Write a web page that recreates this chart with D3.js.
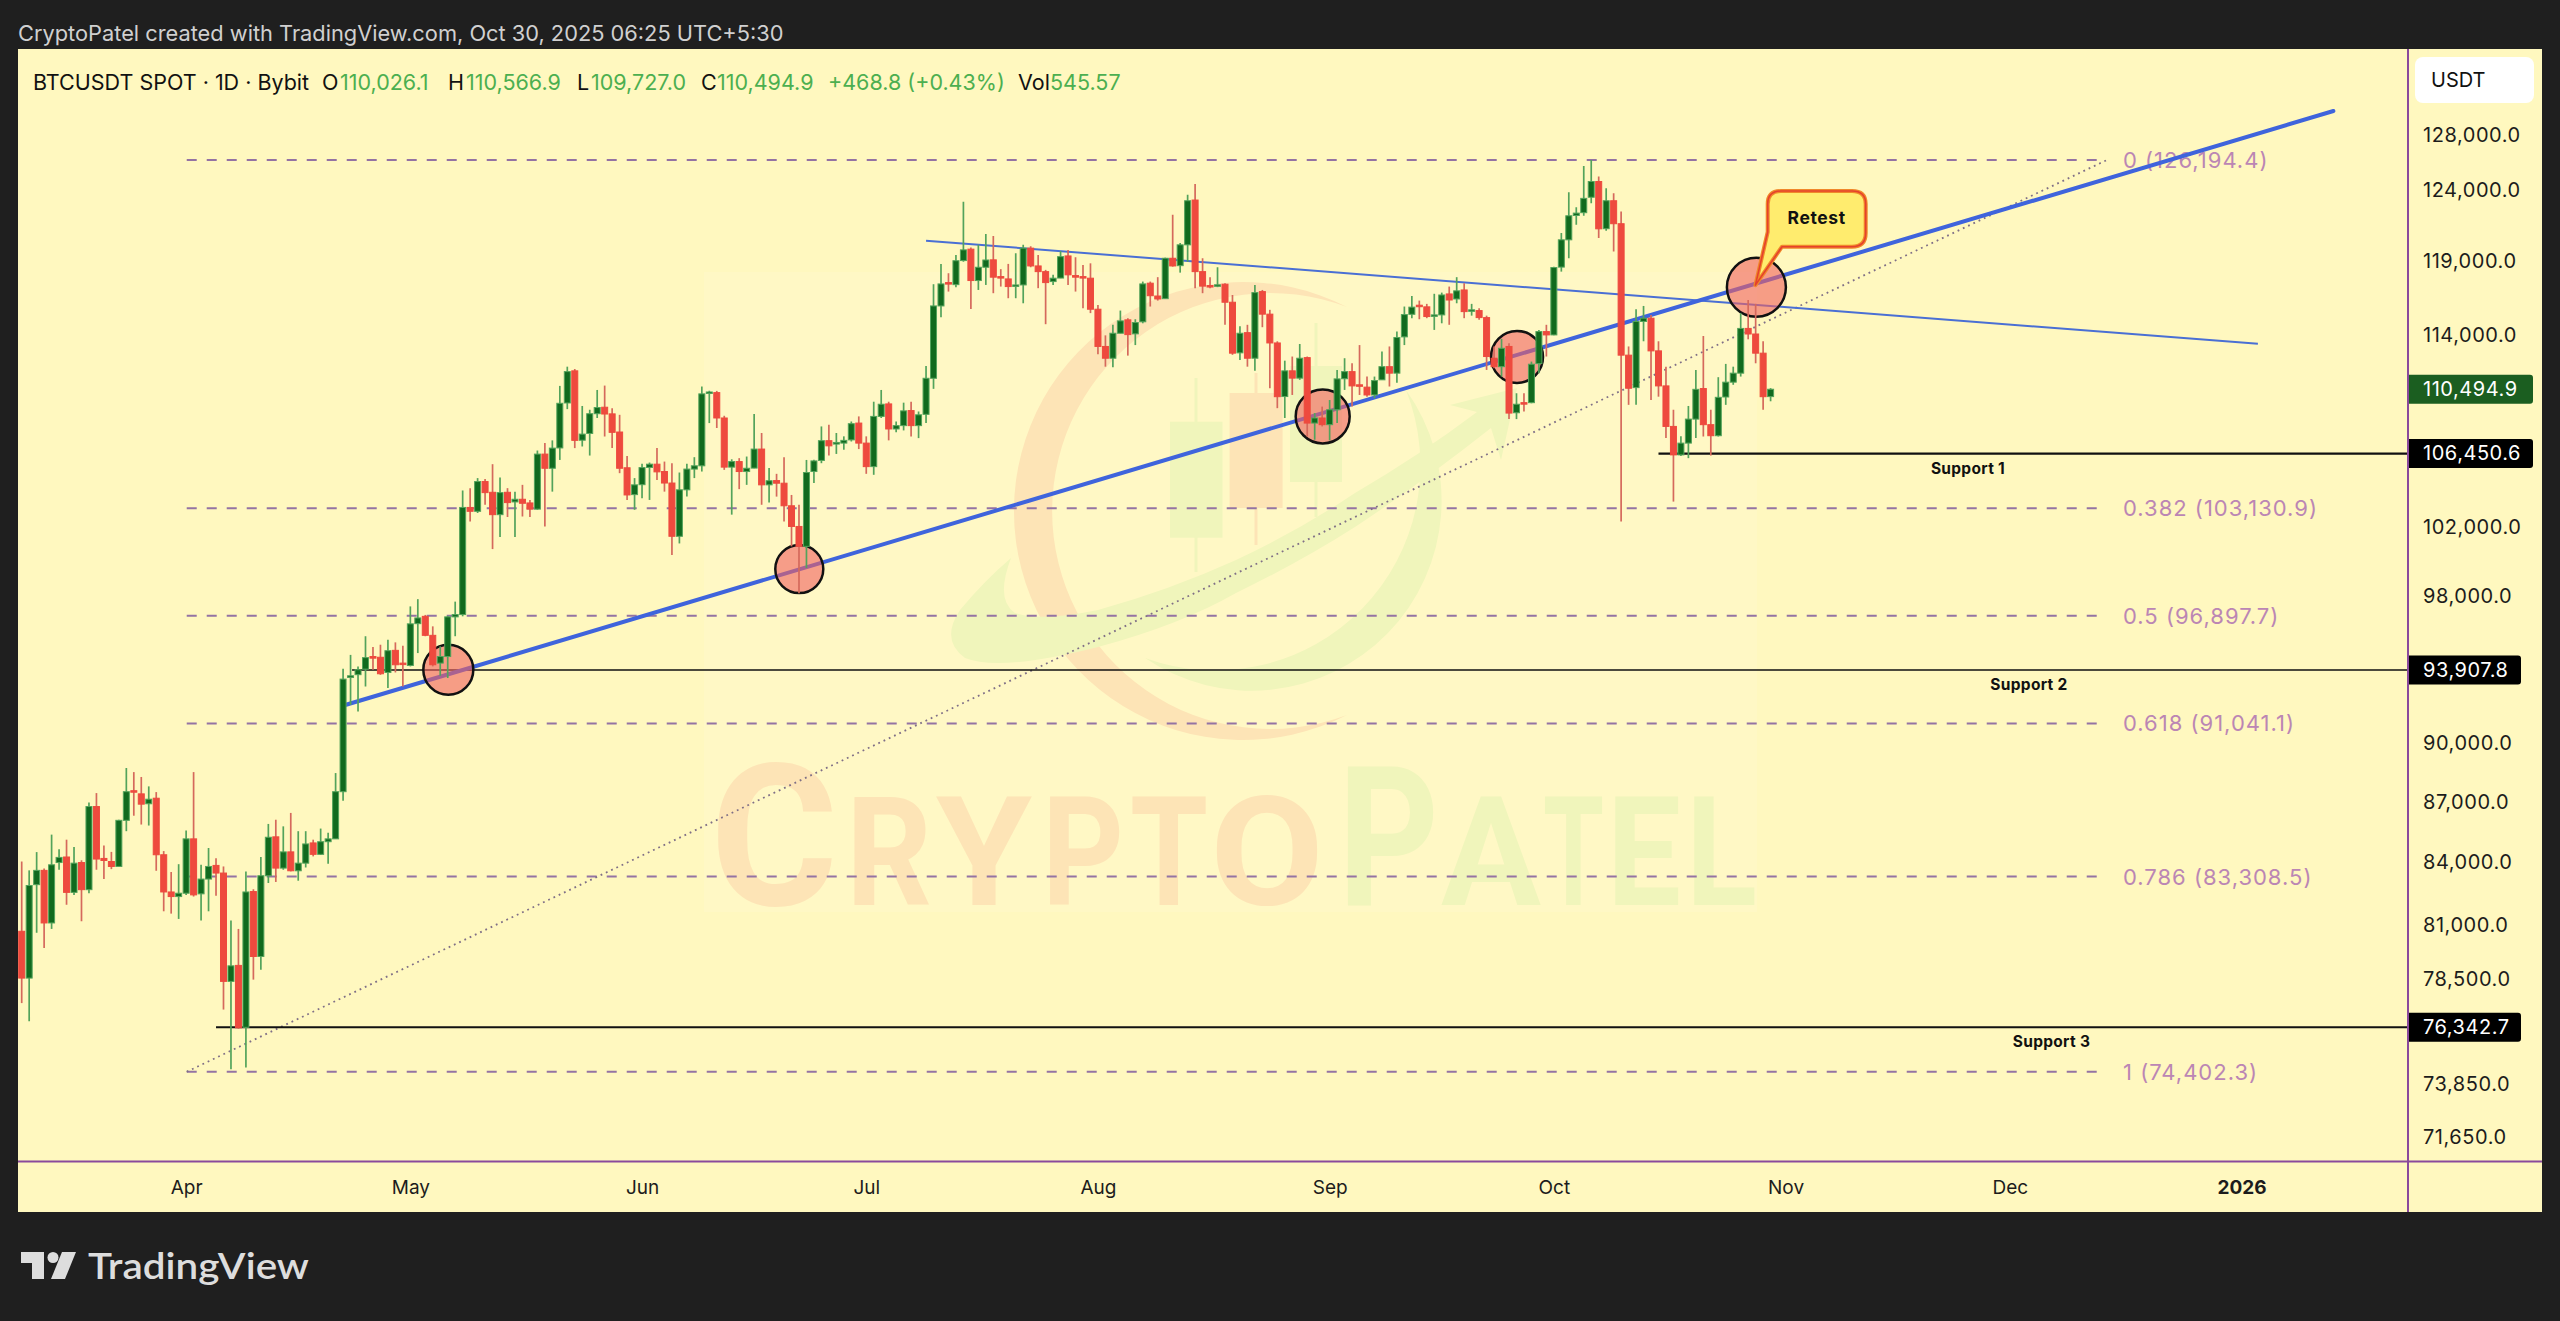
<!DOCTYPE html>
<html><head><meta charset="utf-8">
<script src="https://cdn.jsdelivr.net/npm/d3@7/dist/d3.min.js"></script>
<style>html,body{margin:0;padding:0;background:#1f1f1f}svg{display:block}
text{font-family:Inter,"Noto Sans",sans-serif}</style></head><body>
<svg id="c" width="2560" height="1321"></svg>
<script>
const firstDay = Date.UTC(2025, 2, 10);
const opens = [80710,78550,82920,83610,81100,83990,84260,82550,83990,82680,
86760,84190,84040,83800,86070,87560,87400,86900,87180,84370,
82570,82350,82510,85150,82480,83190,83850,83480,78400,79130,
76340,82590,79540,83350,85250,83720,84510,83590,83960,84950,
84390,85010,85150,87510,93500,93650,93950,94640,94600,93770,
94980,94280,94150,96460,96870,95810,94280,94640,96840,96970,
103180,102950,104740,104090,102750,104090,103510,103670,103450,103080,
106420,105550,106800,109620,111680,107280,107700,108940,109350,108930,
107790,105580,103950,104550,105600,105800,105350,104650,101470,104240,
105500,105700,110240,110280,108670,105620,105960,105350,105560,106730,
104540,104800,104640,103280,102050,100880,105350,106030,107250,107040,
107100,107300,108350,107100,105650,108770,109560,107980,108190,109140,
108190,108900,111200,115960,117540,117400,119050,119840,117680,118590,
119100,117950,117790,117300,117380,119910,118680,118290,117610,117850,
119370,118020,117950,117840,115740,113270,112500,114140,115030,114100,
114900,117500,116630,116450,119210,118700,120140,123300,118290,117340,
117300,117430,116210,112850,114180,112500,116930,115410,113500,110030,
111680,111210,112540,108350,108670,108250,109190,111170,111630,110780,
110630,110130,111100,111950,111530,113900,115400,116010,115900,115310,
115360,116770,116430,117040,115630,115650,115180,112500,111950,113270,
109000,109640,109640,112150,114250,114030,118600,120490,122200,122400,
123500,124630,121270,123250,121620,112700,110600,114920,115140,112980,
110710,108140,106370,107100,108600,110540,108250,107560,110000,110950,
111530,114460,114090,112830,110026.1];
const highs = [84040,83610,84500,83700,85360,84640,85110,84750,84100,86960,
87440,84820,84510,86100,88720,88510,88260,87780,87490,84550,
83530,83910,85570,88510,83880,84700,84200,83800,81210,80820,
83560,82700,84260,85890,86100,85770,86440,85530,85530,85110,
85660,85450,88460,93970,94730,94100,95760,95160,95290,95570,
95420,95230,97430,97840,96950,96310,95200,96900,97700,104200,
104340,104950,104890,105800,104990,104340,104130,104540,103630,106640,
107100,107270,110710,111950,111800,109430,109190,110450,110730,109290,
108870,106310,104950,105820,105900,106790,105960,105860,105290,105820,
106230,110670,110400,110390,108810,106100,106170,106270,108920,107730,
105560,105210,106230,103930,103340,106060,106070,108140,108250,107730,
107520,108450,108770,107520,109700,110450,109700,108450,109640,109700,
109080,112000,117430,118820,118180,119440,123180,119950,120140,120890,
120750,118460,118820,119560,120140,120040,119440,118410,118070,119720,
119790,119280,118750,118860,116030,114000,114700,115650,115140,115070,
117610,117610,117910,119250,122250,120260,123670,124460,119210,117910,
118590,117500,116700,114600,114700,117380,117040,115700,113610,112340,
112610,113430,112610,108980,109390,109810,111740,112500,112170,113360,
111310,111310,112940,113270,114250,115920,116630,116320,116100,116780,
116860,117270,117910,117500,116100,115810,115310,113270,113770,113480,
110240,110240,112280,114360,114700,118630,120960,123860,122790,125760,
126200,125000,124150,123790,122480,113270,115740,115960,115360,113610,
111950,109190,107520,109430,111740,113960,109190,111270,112130,111950,
115480,116360,116100,113610,110566.9];
const lows = [77420,76610,80640,79930,80820,83640,81960,82430,81180,82510,
83640,83190,83670,83780,85530,86300,85860,85810,83590,81650,
81540,81290,82430,82350,81210,81650,82390,77130,74510,76280,
74580,78480,78930,83000,83050,83640,83560,83110,83750,84290,
84360,83930,85150,87050,92030,91670,93010,93920,93640,92930,
93770,93010,94100,94830,95760,94100,93590,93470,95760,96870,
102350,102850,103340,100720,101430,102610,101430,102640,102610,103040,
102050,104130,106060,109230,106790,106890,106330,108670,107510,106790,
105250,103630,103040,103730,103630,104840,104130,100380,101050,103830,
104950,105350,108350,108040,105450,102750,104280,104540,105550,103340,
103470,103830,102350,100880,98180,99620,104650,105860,106330,106430,
106690,107200,106730,105210,105150,108670,107270,107770,107890,107510,
107410,108350,110520,115210,116930,117230,118970,115760,117040,117380,
116820,117270,116480,116480,116140,118590,117160,114740,117380,117840,
117380,116930,115810,115480,112760,111950,111920,114140,112670,113360,
114800,115920,116320,116450,118630,118220,118970,117160,116820,117160,
117230,114700,112720,112390,111950,111680,114540,110560,109290,108670,
110130,111100,107510,107310,108140,107270,108350,110450,109390,110130,
110020,109920,111100,110670,110920,113360,115140,115070,115140,114360,
114800,114700,116140,115140,115310,115030,111740,111850,111310,108600,
108600,109080,109600,111530,112610,114000,118290,119210,121550,122180,
123070,120610,121130,119670,102350,109500,109500,113610,109810,110020,
107410,103530,106310,106170,107410,107510,106330,107510,109500,110780,
111310,113740,112170,109190,109727];
const closes = [78550,82880,83610,81100,83880,84240,82550,83960,82680,86760,
84160,84090,83800,86070,87510,87510,86880,87130,84370,82570,
82350,82510,85150,82430,83190,83800,83480,78400,79110,76320,
82570,79540,83350,85230,83720,84510,83590,83960,84900,84390,
85010,85150,87510,93410,93590,93920,94580,94550,93700,94960,
94190,94220,96450,96780,95810,94190,94640,96840,96970,103180,
102950,104740,104070,102750,104070,103470,103670,103430,103080,106420,
105550,106790,109600,111630,107270,107660,108940,109330,108920,107770,
105550,103930,104540,105590,105800,105330,104650,101470,104240,105500,
105700,110200,110320,108670,105620,105960,105350,105550,106730,104540,
104790,104640,103280,102050,100880,105290,106000,107250,106930,107140,
107270,108310,107100,105650,108770,109540,107980,108190,109120,108190,
108870,111200,115960,117450,117450,119040,119790,117680,118590,119090,
117910,117880,117270,117380,119910,118680,118290,117540,117840,119320,
118070,117910,117880,115740,113270,112500,114140,114960,114050,114850,
117450,116650,116430,119210,118680,120140,123250,118290,117300,117270,
117390,116210,112830,114140,112500,116860,115410,113500,110020,111680,
111210,112500,108350,108670,108250,109190,111160,111630,110710,110710,
110130,111050,111950,111530,113860,115380,115880,115920,115250,115360,
116700,116360,116980,115580,115700,115180,112610,111950,113150,108980,
109540,109560,112110,114250,114030,118570,120490,122180,122370,123420,
124630,121260,123250,121620,112700,110560,114920,115140,112980,110710,
108140,106370,107100,108600,110490,108250,107560,109980,110950,111530,
114460,114090,112830,110020,110494.9];

const fibRatios = ["0","0.382","0.5","0.618","0.786","1"];
const fibPrices = [126194.4,103130.9,96897.7,91041.1,83308.5,74402.3];
const fibStartDay = 22.08, fibEndDay = 279;
const supportNames = ["Support 1","Support 2","Support 3"];
const supportPrices = [106450.6,93907.8,76342.7];
const supportStartDay = [219,44.2,26];
const supportLabelX = [1968,2029,2051.5];
const supportWidths = [2.2,1.6,2.2];
const priceTicks = [128000,124000,119000,114000,102000,98000,90000,87000,84000,81000,78500,73850,71650];
const monthLabels = ["Apr","May","Jun","Jul","Aug","Sep","Oct","Nov","Dec","2026"];
const monthDates = [[2025,3],[2025,4],[2025,5],[2025,6],[2025,7],[2025,8],[2025,9],[2025,10],[2025,11],[2026,0]];
const thickTrendDays = [43.4,309.3], thickTrendPrices = [92030,129830];
const thinTrendDays = [121,299.2], thinTrendPrices = [120425,113450];
const circleDays = [57.08,104.04,174.07,200.07,232.1];
const circlePrices = [93915,99558,108770,112586,117230];
const circleRadii = [25,24,27,26,29.5];

const W=2560,H=1321,L=18,R=2408,RE=2542,T=49,B=1161.5,BE=1212;
const day = i => new Date(firstDay + i*864e5);
const x = d3.scaleUtc().domain([day(0),day(234)]).range([21.7,1770.6]);
const y = d3.scaleLog().domain([74402.3,126194.4]).range([1071.7,160]);
const xi = i => x(day(i));
const svg = d3.select("#c");
svg.append("rect").attr("width",W).attr("height",H).attr("fill","#1f1f1f");
svg.append("defs").append("clipPath").attr("id","plot").append("rect").attr("x",L).attr("y",T).attr("width",R-L).attr("height",B-T);
svg.append("rect").attr("x",L).attr("y",T).attr("width",RE-L).attr("height",BE-T).attr("fill","#fff8bf");

// footer + header
svg.append("text").attr("x",18).attr("y",33).attr("dy",".35em").attr("font-size",21.8).attr("fill","#d0d0d0").text("CryptoPatel created with TradingView.com, Oct 30, 2025 06:25 UTC+5:30");
const logo = svg.append("g").attr("fill","#dddddd");
logo.append("path").attr("d","M21 1252H44V1279H32V1263H21Z");
logo.append("circle").attr("cx",53).attr("cy",1257.5).attr("r",5.5);
logo.append("path").attr("d","M62 1252H76L65 1279H51Z");
logo.append("text").attr("x",88).attr("y",1279).attr("font-size",36).attr("font-weight",600).attr("style","font-family:Lato").attr("textLength",221).attr("lengthAdjust","spacingAndGlyphs").text("TradingView");

const plot = svg.append("g").attr("clip-path","url(#plot)");
// watermark
const wm = plot.append("g");
const OR="#fde4b6", GR="#f0f5bb";
wm.append("rect").attr("x",704).attr("y",272).attr("width",1053).attr("height",640).attr("fill","#fff").attr("opacity",.1);
wm.append("path").attr("fill",OR).attr("d","M1347 307A229 229 0 1 0 1347 715A218 218 0 1 1 1347 307Z");
wm.append("path").attr("fill",GR).attr("d","M1406 390A190 190 0 0 1 1145 658A205 205 0 0 0 1406 390Z");
wm.append("path").attr("fill",GR).attr("d","M1011 558Q985 580 960 610Q940 640 965 658Q1000 672 1098 647Q1180 625 1236 593Q1300 562 1355 527Q1420 484 1491 428L1501 460L1517 388L1450 405L1477 412Q1420 455 1355 493Q1300 530 1236 560Q1170 590 1098 610Q1040 622 1015 613Q995 600 1011 558Z");
[[1170,421.7,52.5,116,1196,378,572,GR],[1229.6,393,53,115,1256,373,545,OR],[1290,366,52,116,1316,323,517,GR]].forEach(d=>{
  wm.append("rect").attr("x",d[0]).attr("y",d[1]).attr("width",d[2]).attr("height",d[3]).attr("fill",d[7]);
  wm.append("line").attr("x1",d[4]).attr("x2",d[4]).attr("y1",d[5]).attr("y2",d[6]).attr("stroke",d[7]).attr("stroke-width",3);
});
[["C",710,128,198,OR],["R",846,86,152,OR],["Y",936,96,152,OR],["P",1042,82,152,OR],["T",1130,78,152,OR],["O",1210,114,152,OR],
 ["P",1338,101,194,GR],["A",1441,100,152,GR],["T",1543,61,152,GR],["E",1607,74,152,GR],["L",1686,71,152,GR]].forEach(d=>{
  const t = wm.append("text").attr("y",0).attr("x",0).attr("font-size",d[3]).attr("font-weight",700).attr("fill",d[4]).attr("style","font-family:Roboto").text(d[0]);
  const n = t.node().getComputedTextLength();
  t.attr("transform",`translate(${d[1]},905) scale(${d[2]/n},1)`);
});

// fib levels
const FIBLINE="#9473a3", FIBTEXT="#bb86b4";
fibPrices.forEach((p,k)=>{
  plot.append("line").attr("x1",xi(fibStartDay)).attr("x2",xi(fibEndDay)-9).attr("y1",y(p)).attr("y2",y(p))
    .attr("stroke",FIBLINE).attr("stroke-width",2).attr("stroke-dasharray","10 10");
  plot.append("text").attr("x",2123).attr("y",y(p)).attr("dy",".36em").attr("font-size",22).attr("letter-spacing",1).attr("fill",FIBTEXT)
    .text(fibRatios[k]+" ("+d3.format(",.1f")(p)+")");
});
plot.append("line").attr("x1",xi(fibStartDay)).attr("y1",y(fibPrices[5])).attr("x2",xi(fibEndDay)).attr("y2",y(fibPrices[0]))
  .attr("stroke","#7f6f86").attr("stroke-width",1.8).attr("stroke-dasharray","1.8 4");

// supports
supportPrices.forEach((p,k)=>{
  plot.append("line").attr("x1",xi(supportStartDay[k])).attr("x2",R).attr("y1",y(p)).attr("y2",y(p)).attr("stroke","#111").attr("stroke-width",supportWidths[k]);
  plot.append("text").attr("x",supportLabelX[k]).attr("y",y(p)+14.5).attr("dy",".35em").attr("text-anchor","middle")
    .attr("font-size",15.5).attr("font-weight",700).attr("letter-spacing",.3).attr("fill","#111").text(supportNames[k]);
});

// trend lines
const tl = d3.line().x(d=>xi(d[0])).y(d=>y(d[1]));
plot.append("path").attr("d",tl(d3.zip(thinTrendDays,thinTrendPrices))).attr("fill","none").attr("stroke","#4a6fd4").attr("stroke-width",2);
plot.append("path").attr("d",tl(d3.zip(thickTrendDays,thickTrendPrices))).attr("fill","none").attr("stroke","#3f64dc").attr("stroke-width",4).attr("stroke-linecap","round");

// circles
plot.selectAll("circle.m").data(circleDays).join("circle").attr("class","m")
  .attr("cx",(d)=>xi(d)).attr("cy",(d,k)=>y(circlePrices[k])).attr("r",(d,k)=>circleRadii[k])
  .attr("fill","#f0605f").attr("fill-opacity",.6).attr("stroke","#111").attr("stroke-width",2.5);

// callout
const tipX = xi(circleDays[4]), tipY = y(circlePrices[4]);
const calloutPath = `M${tipX-1} ${tipY-2}L1767.7 232V204Q1767.7 191 1781 191H1852Q1865.7 191 1865.7 204V233Q1865.7 246.7 1852 246.7H1782Z`;
const callout = plot.append("g");
callout.append("path").attr("fill","#ffec6e").attr("stroke","#f0882a").attr("stroke-width",4).attr("stroke-linejoin","round").attr("d",calloutPath);
callout.append("path").attr("fill","none").attr("stroke","#e5412c").attr("stroke-width",1.6).attr("stroke-linejoin","round").attr("d",calloutPath);
callout.append("text").attr("x",1816.7).attr("y",218).attr("dy",".36em").attr("text-anchor","middle").attr("font-size",17.5).attr("font-weight",700).attr("fill","#111").attr("letter-spacing",.6).text("Retest");

// candles
const idx = d3.range(opens.length);
const UP="#116a1e", DN="#ee4a3e", UPW="#53a35b", DNW="#d5695c";
const cg = plot.append("g");
cg.selectAll("line").data(idx).join("line")
  .attr("x1",xi).attr("x2",xi).attr("y1",i=>y(highs[i])).attr("y2",i=>y(lows[i]))
  .attr("stroke",i=>closes[i]>=opens[i]?UPW:DNW).attr("stroke-width",1.7);
cg.selectAll("rect").data(idx).join("rect")
  .attr("x",i=>xi(i)-3).attr("width",6)
  .attr("y",i=>Math.min(y(opens[i]),y(closes[i])))
  .attr("height",i=>Math.max(1.5,Math.abs(y(opens[i])-y(closes[i]))))
  .attr("fill",i=>closes[i]>=opens[i]?UP:DN)
  .attr("stroke",i=>closes[i]>=opens[i]?UPW:DN).attr("stroke-width",1);

// frame lines
const PUR="#8a4a9c";
svg.append("line").attr("x1",R).attr("x2",R).attr("y1",T).attr("y2",BE).attr("stroke",PUR).attr("stroke-width",2);
svg.append("line").attr("x1",L).attr("x2",RE).attr("y1",B).attr("y2",B).attr("stroke",PUR).attr("stroke-width",2);

// axes
const ya = svg.append("g").attr("transform",`translate(${R},0)`)
  .call(d3.axisRight(y).tickValues(priceTicks).tickFormat(d3.format(",.1f")).tickSize(0).tickPadding(15));
ya.select(".domain").remove();
ya.selectAll("text").attr("font-size",20).attr("fill","#1c1c1c").attr("letter-spacing",.55).attr("style","font-family:Inter");
const xa = svg.append("g").attr("transform",`translate(0,${B})`)
  .call(d3.axisBottom(x).tickValues(monthDates.map(d=>new Date(Date.UTC(d[0],d[1],1)))).tickFormat((d,k)=>monthLabels[k]).tickSize(0).tickPadding(19));
xa.select(".domain").remove();
xa.selectAll("text").attr("font-size",19).attr("fill","#1c1c1c").attr("style","font-family:Inter")
  .attr("font-weight",(d,k)=>monthLabels[k]==="2026"?700:400);

// price tags
const tags = [[closes[234],"#1b5e20",2533],[supportPrices[0],"#000",2533],[supportPrices[1],"#000",2521],[supportPrices[2],"#000",2521]];
tags.forEach(t=>{
  const yy=y(t[0]);
  svg.append("path").attr("fill",t[1]).attr("d",`M${R+1} ${yy-14.5}H${t[2]-3}Q${t[2]} ${yy-14.5} ${t[2]} ${yy-11.5}V${yy+11.5}Q${t[2]} ${yy+14.5} ${t[2]-3} ${yy+14.5}H${R+1}Z`);
  svg.append("text").attr("x",R+15).attr("y",yy).attr("dy",".34em").attr("font-size",20).attr("letter-spacing",.55).attr("fill","#fff").text(d3.format(",.1f")(t[0]));
});
svg.append("rect").attr("x",2415).attr("y",57).attr("width",119).attr("height",46).attr("rx",8).attr("fill","#fff");
svg.append("text").attr("x",2431).attr("y",80).attr("dy",".36em").attr("font-size",20).attr("fill","#111").text("USDT");

// legend
const GREEN="#4caf50", INK="#111";
[["BTCUSDT SPOT · 1D · Bybit",33,INK],["O",322,INK],["110,026.1",340,GREEN],["H",448,INK],["110,566.9",466,GREEN],["L",577,INK],["109,727.0",591,GREEN],
 ["C",701,INK],["110,494.9",717,GREEN],["+468.8 (+0.43%)",828,GREEN],["Vol",1018,INK],["545.57",1050,GREEN]].forEach(d=>{
  svg.append("text").attr("x",d[1]).attr("y",82).attr("dy",".36em").attr("font-size",21.5).attr("fill",d[2]).text(d[0]);
});
</script></body></html>
